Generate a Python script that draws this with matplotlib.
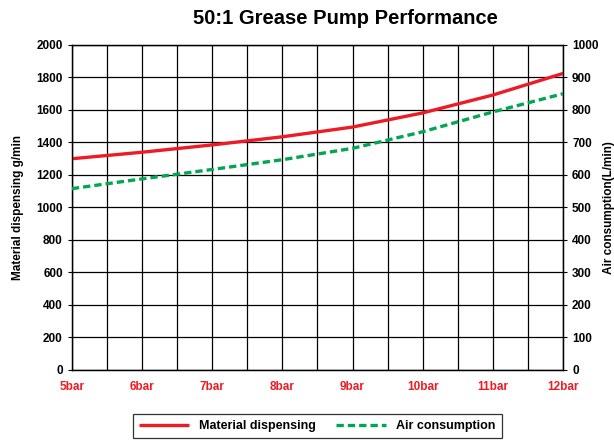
import matplotlib.pyplot as plt
import numpy as np

# pump pressure (bar) and readings
pressure = [5, 6, 7, 8, 9, 10, 11, 12]
pressure_labels = ['5bar', '6bar', '7bar', '8bar', '9bar', '10bar', '11bar', '12bar']
material_gmin = [1300, 1340, 1385, 1435, 1495, 1582, 1692, 1825]
air_lmin = [558, 588, 617, 647, 682, 733, 794, 850]

RED = '#ed1c24'
GREEN = '#00a651'

plt.rcParams['font.family'] = ['Liberation Sans', 'DejaVu Sans']

fig = plt.figure(figsize=(6.14, 4.41), dpi=100)
ax = fig.add_axes([0.117, 0.161, 0.800, 0.737])
ax2 = ax.twinx()

l1, = ax.plot(pressure, material_gmin, color=RED, lw=2.4, label='Material dispensing',
              solid_capstyle='butt', zorder=5)
l2, = ax2.plot(pressure, air_lmin, color=GREEN, lw=2.4, ls=(0, (2.2, 1.2)),
               label='Air consumption', zorder=5)

ax.set_xlim(5, 12)
ax.set_ylim(0, 2000)
ax2.set_ylim(0, 1000)

ax.set_xticks(pressure)
ax.set_xticklabels(pressure_labels, color=RED, fontweight='bold', fontsize=8.5)
ax.set_xticks(np.arange(5, 12.01, 0.5), minor=True)
ax.set_yticks(np.arange(0, 2001, 200))
ax2.set_yticks(np.arange(0, 1001, 100))

for a in (ax, ax2):
    a.tick_params(axis='y', labelsize=8.5, length=3, width=0.8)
    for lab in a.get_yticklabels():
        lab.set_fontweight('bold')
ax.tick_params(axis='x', which='both', length=0, pad=8)

ax.grid(True, which='both', axis='x', color='black', lw=0.9)
ax.grid(True, which='major', axis='y', color='black', lw=0.9)
ax.set_axisbelow(True)

for a in (ax, ax2):
    for s in a.spines.values():
        s.set_color('black')
        s.set_linewidth(0.9)

ax.set_ylabel('Material dispensing g/min', fontsize=8.5, fontweight='bold', labelpad=9)
ax2.set_ylabel('Air consumption(L/min)', fontsize=8.5, fontweight='bold', labelpad=3)

fig.text(0.562, 0.958, '50:1 Grease Pump Performance', ha='center', va='center',
         fontsize=14.5, fontweight='bold')

leg = ax.legend(handles=[l1, l2], loc='upper center', bbox_to_anchor=(0.5, -0.115),
                ncol=2, fancybox=False, edgecolor='black', fontsize=9,
                handlelength=4, columnspacing=1.6, borderpad=0.5)
leg.get_frame().set_linewidth(0.9)
for t in leg.get_texts():
    t.set_fontweight('bold')

plt.savefig('out.png', dpi=100)
plt.close()
